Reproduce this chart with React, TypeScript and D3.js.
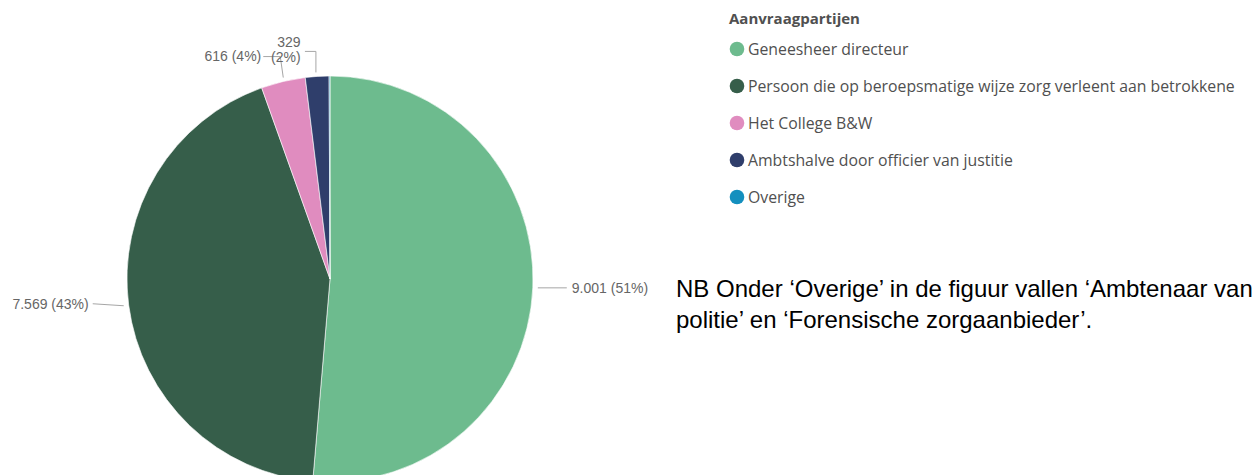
import * as d3 from "d3";
import { useEffect } from "react";

const WIDTH = 1256;
const HEIGHT = 475;

const CATEGORIES = [
  "Geneesheer directeur",
  "Persoon die op beroepsmatige wijze zorg verleent aan betrokkene",
  "Het College B&W",
  "Ambtshalve door officier van justitie",
  "Overige",
];
const VALUES = [9001, 7569, 616, 329, 12];
const COLORS = ["#6DBB8E", "#365E4A", "#E08CBF", "#2F3E6B", "#148FBE"];

const LEGEND_TITLE = "Aanvraagpartijen";
const NOTE_LINES = [
  "NB Onder \u2018Overige\u2019 in de figuur vallen \u2018Ambtenaar van",
  "politie\u2019 en \u2018Forensische zorgaanbieder\u2019.",
];

const CX = 330;
const CY = 279;
const R = 203;

const nl = d3.formatLocale({
  decimal: ",",
  thousands: ".",
  grouping: [3],
  currency: ["\u20ac", ""],
});
const fmtNum = nl.format(",d");

interface Slice {
  name: string;
  value: number;
  color: string;
  arc: d3.PieArcDatum<number>;
  pct: string;
}

export default function App() {
  useEffect(() => {
    document.body.style.margin = "0";
  }, []);

  const total = d3.sum(VALUES);
  const pie = d3.pie<number>().sort(null).value((d) => d);
  const arcs = pie(VALUES);
  const arcGen = d3.arc<d3.PieArcDatum<number>>().innerRadius(0).outerRadius(R);

  const slices: Slice[] = arcs.map((a, i) => ({
    name: CATEGORIES[i],
    value: VALUES[i],
    color: COLORS[i],
    arc: a,
    pct: `${Math.round((VALUES[i] / total) * 100)}%`,
  }));

  // point on the circle for angle (clockwise from top)
  const pt = (angle: number, r: number) => [
    CX + Math.sin(angle) * r,
    CY - Math.cos(angle) * r,
  ];

  const labelColor = "#666666";
  const lineColor = "#A6A6A6";
  const labelSize = 14;

  const labels = slices.slice(0, 4).map((s, i) => {
    const mid = (s.arc.startAngle + s.arc.endAngle) / 2;
    const text = `${fmtNum(s.value)} (${s.pct})`;
    if (i < 2) {
      const [x0, y0] = pt(mid, R + 5);
      const right = Math.sin(mid) > 0;
      const x1 = right ? x0 + 29 : x0 - 31;
      const y1 = y0 - (right ? 0 : 2);
      return (
        <g key={s.name}>
          <polyline
            points={`${x0},${y0} ${x1},${y1}`}
            fill="none"
            stroke={lineColor}
            strokeWidth={1}
          />
          <text
            x={right ? x1 + 5 : x1 - 4}
            y={y1}
            dy="0.35em"
            textAnchor={right ? "start" : "end"}
            fontSize={labelSize}
            fill={labelColor}
          >
            {text}
          </text>
        </g>
      );
    }
    // small slices at the top: vertical leader then horizontal to the left
    const [x0, y0] = pt(mid, R + 4);
    if (i === 2) {
      const yTop = y0 - 21;
      const xl = x0 - 19;
      return (
        <g key={s.name}>
          <polyline
            points={`${x0 + 1},${y0} ${x0 - 2},${yTop} ${xl},${yTop}`}
            fill="none"
            stroke={lineColor}
            strokeWidth={1}
          />
          <text x={xl - 2} y={yTop} dy="0.35em" textAnchor="end" fontSize={labelSize} fill={labelColor}>
            {text}
          </text>
        </g>
      );
    }
    const yTop = y0 - 21;
    const xv = x0 - 1;
    const xl = xv - 11;
    return (
      <g key={s.name}>
        <polyline
          points={`${xv},${y0} ${xv},${yTop} ${xl},${yTop}`}
          fill="none"
          stroke={lineColor}
          strokeWidth={1}
        />
        <text x={xl - 16} y={yTop - 9} dy="0.35em" textAnchor="middle" fontSize={labelSize} fill={labelColor}>
          {fmtNum(s.value)}
        </text>
        <text x={xl - 19} y={yTop + 6} dy="0.35em" textAnchor="middle" fontSize={labelSize} fill={labelColor}>
          ({s.pct})
        </text>
      </g>
    );
  });

  const legendY = d3
    .scalePoint<string>()
    .domain(CATEGORIES)
    .range([49, 197]);

  return (
    <div style={{ position: "absolute", left: 0, top: 0 }}>
      <svg
        width={WIDTH}
        height={HEIGHT}
        style={{ display: "block", background: "#ffffff" }}
        fontFamily="'Liberation Sans', Arial, sans-serif"
      >
        <g>
          {slices.map((s) => (
            <path
              key={s.name}
              d={arcGen(s.arc) ?? ""}
              transform={`translate(${CX},${CY})`}
              fill={s.color}
              stroke="#ffffff"
              strokeWidth={0.6}
            />
          ))}
        </g>
        <g>{labels}</g>

        <g fontFamily="'Open Sans', 'Noto Sans', sans-serif">
          <text x={729} y={19} dy="0.35em" fontSize={15} fontWeight={700} fill="#505050">
            {LEGEND_TITLE}
          </text>
          {slices.map((s) => (
            <g key={s.name} transform={`translate(0,${legendY(s.name)})`}>
              <circle cx={737} cy={0} r={7.3} fill={s.color} />
              <text x={748} y={0} dy="0.35em" fontSize={15.8} fill="#505050">
                {s.name}
              </text>
            </g>
          ))}
        </g>

        <g>
          {NOTE_LINES.map((line, i) => (
            <text
              key={i}
              x={676}
              y={297 + i * 31}
              fontSize={24}
              fill="#000000"
            >
              {line}
            </text>
          ))}
        </g>
      </svg>
    </div>
  );
}
